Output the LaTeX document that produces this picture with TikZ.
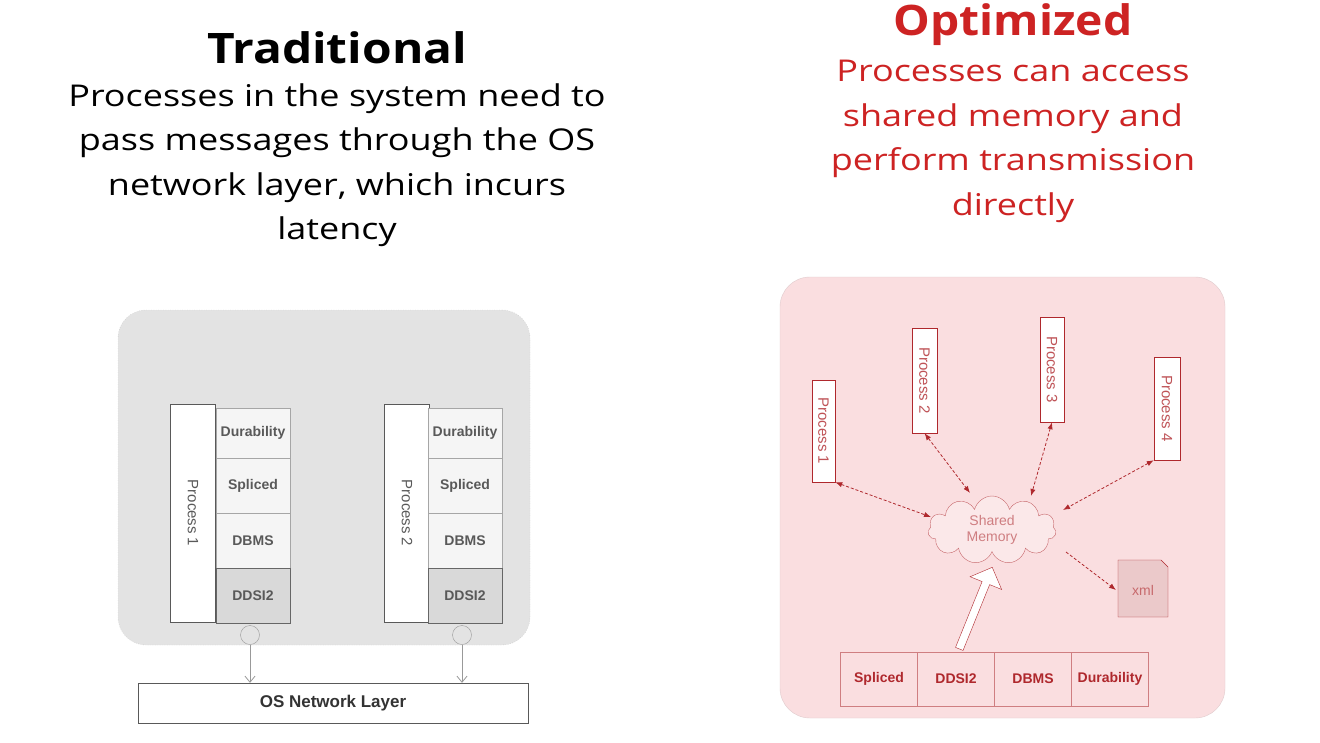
\documentclass[tikz,border=0pt]{standalone}
\usepackage{fontspec}
\setmainfont{Open Sans}
\newfontfamily\arialf{Liberation Sans}
\usetikzlibrary{shapes.symbols,shapes.arrows,arrows.meta}
\definecolor{tred}{RGB}{205,35,35}
\definecolor{pinkbg}{RGB}{250,222,224}
\definecolor{dred}{RGB}{175,40,45}
\tikzset{
 lay/.style={draw=gray!70,fill=gray!8,minimum width=74pt,font=\arialf\fontsize{14}{16}\selectfont\bfseries,text=gray!70!black,inner sep=0},
 proc/.style={draw=gray!70!black,fill=white,inner sep=0},
 rproc/.style={draw=dred,fill=white,inner sep=0,font=\arialf\fontsize{15}{17}\selectfont,text=dred!80},
 rlay/.style={draw=dred!60,fill=pinkbg,minimum width=77pt,minimum height=54pt,inner sep=0,font=\arialf\fontsize{14}{16}\selectfont\bfseries,text=dred},
 rarr/.style={dred,thick,densely dashed,{Latex[length=7pt]}-{Latex[length=7pt]}},
}
\begin{document}
\begin{tikzpicture}[x=1pt,y=-1pt]
\useasboundingbox (0,0) rectangle (1320,742);
\fill[white] (0,0) rectangle (1320,742);
% titles
\node[xscale=1.14] (t1) at (337,48) {\fontsize{42}{44}\selectfont\bfseries Traditional};
\node[xscale=1.2,align=center,font=\fontsize{30}{44.5}\selectfont,anchor=north] (t1b) at (337,80) {Processes in the system need to\\pass messages through the OS\\network layer, which incurs\\latency};
\node[xscale=1.1,text=tred] (t2) at (1013,25) {\fontsize{42}{44}\selectfont\bfseries Optimized};
\node[xscale=1.2,align=center,text=tred,font=\fontsize{30}{44.5}\selectfont,anchor=north] (t2b) at (1013,57) {Processes can access\\shared memory and\\perform transmission\\directly};
% left
\node[draw=gray!50,dotted,fill=gray!22,rounded corners=28pt,minimum width=412pt,minimum height=335pt] (lbg) at (324,477.5) {};
\foreach \n/\px/\sx/\t in {a/193/253/1,b/407/465/2}{
 \node[proc,minimum width=45pt,minimum height=218pt] (p\n) at (\px,513) {};
 \node[rotate=-90,font=\arialf\fontsize{15}{17}\selectfont,text=gray!70!black] (pt\n) at (p\n) {Process \t};
 \node[lay,minimum height=50pt] (du\n) at (\sx,433) {Durability};
 \node[lay,minimum height=55pt] (sp\n) at (\sx,485.5) {Spliced};
 \node[lay,minimum height=55pt] (db\n) at (\sx,540.5) {DBMS};
 \node[lay,minimum height=55pt,fill=gray!30,draw=gray!80!black] (dd\n) at (\sx,595.5) {DDSI2};
}
\node[draw=gray!70!black,fill=white,minimum width=390pt,minimum height=40pt,font=\arialf\fontsize{17}{19}\selectfont\bfseries,text=black!80] (os) at (333,703) {OS Network Layer};
\node[circle,draw=gray!80,minimum size=19pt,inner sep=0] (ca) at (250,635) {};
\node[circle,draw=gray!80,minimum size=19pt,inner sep=0] (cb) at (462,635) {};
\draw[gray!80,thick,-{Straight Barb[length=6pt,width=10pt]}] (ca) -- (ca|-os.north);
\draw[gray!80,thick,-{Straight Barb[length=6pt,width=10pt]}] (cb) -- (cb|-os.north);
% right
\node[draw=pinkbg!80!gray,fill=pinkbg,rounded corners=30pt,minimum width=445pt,minimum height=441pt] (rbg) at (1002.5,497.5) {};
\node[rproc,minimum width=23pt,minimum height=102pt] (q1) at (823.5,431) {};
\node[rproc,minimum width=25pt,minimum height=105pt] (q2) at (924.5,380.5) {};
\node[rproc,minimum width=24pt,minimum height=105pt] (q3) at (1052,369.5) {};
\node[rproc,minimum width=26pt,minimum height=103pt] (q4) at (1167,408.5) {};
\foreach \i in {1,2,3,4}{\node[rproc,draw=none,fill=none,rotate=-90] (qt\i) at (q\i) {Process \i};}
\node[cloud,cloud puffs=11,aspect=2,draw=dred!70,fill=pinkbg!70,minimum width=128pt,minimum height=68pt,inner sep=0,align=center,font=\arialf\fontsize{14}{16}\selectfont,text=dred!60] (sm) at (992,530) {Shared\\Memory};
\draw[rarr] (q1.south east) -- (931,517);
\draw[rarr] (q2.south) -- (970,493);
\draw[rarr] (q3.south) -- (1031,496);
\draw[rarr] (q4.south west) -- (1063,510);
\draw[dred,thick,densely dashed,-{Latex[length=7pt]}] (1066,552) -- (1116,590);
\fill[dred!25] (1118,560) -- (1161,560) -- (1168,567) -- (1168,617) -- (1118,617) -- cycle;
\draw[dred] (1118,560) -- (1161,560) -- (1168,567) -- (1168,617) -- (1118,617) -- cycle;
\node[font=\arialf\fontsize{14}{16}\selectfont,text=dred!70] (xml) at (1143,590) {xml};
\node[rlay] (r1) at (879,679) {Spliced};
\node[rlay] (r2) at (956,679) {DDSI2};
\node[rlay] (r3) at (1033,679) {DBMS};
\node[rlay] (r4) at (1110,679) {Durability};
\node[single arrow,draw=dred,fill=white,rotate=68,minimum height=88pt,minimum width=34pt,single arrow head extend=7pt,inner sep=2pt] (fat) at (975,610) {};
\end{tikzpicture}
\end{document}
